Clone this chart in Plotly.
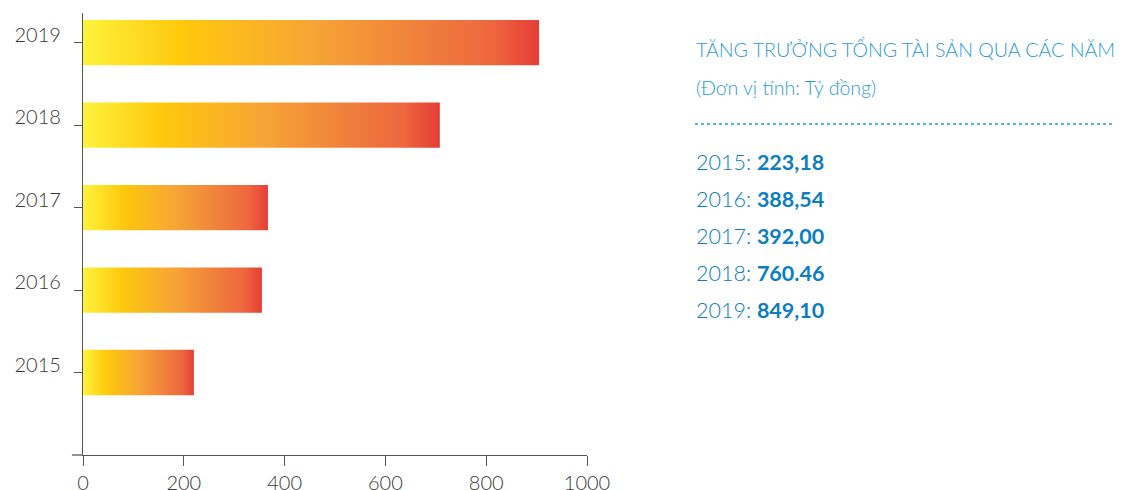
import plotly.graph_objects as go

years = ["2015", "2016", "2017", "2018", "2019"]
bar_values = [220, 355, 367, 708, 905]          # bar lengths as drawn
label_values = ["223,18", "388,54", "392,00", "760.46", "849,10"]
x_ticks = [0, 200, 400, 600, 800, 1000]

title_text = "TĂNG TRƯỞNG TỔNG TÀI SẢN QUA CÁC NĂM"
unit_text = "(Đơn vị tính: Tỷ đồng)"

gradient = [
    [0.0, "#FFF23C"],
    [0.22, "#FEC80C"],
    [0.5, "#F7A535"],
    [0.75, "#EF7E3C"],
    [0.9, "#EE663E"],
    [1.0, "#E53D37"],
]

half = 0.275
fig = go.Figure()
for i, (yr, v) in enumerate(zip(years, bar_values)):
    fig.add_trace(go.Scatter(
        x=[0, v, v, 0, 0],
        y=[i - half, i - half, i + half, i + half, i - half],
        mode="lines",
        fill="toself",
        line=dict(width=0, color="rgba(0,0,0,0)"),
        fillgradient=dict(type="horizontal", colorscale=gradient),
        hoverinfo="text",
        text=f"{yr}: {v}",
        showlegend=False,
    ))

axis_font = dict(family="Lato, Open Sans, sans-serif", size=20, color="#3A3A3A", weight=300)

# page body has an 8px margin, so the figure is offset by 8px
fig.update_layout(
    width=1129, height=490, autosize=False,
    margin=dict(l=75, r=550, t=5, b=43),
    plot_bgcolor="white", paper_bgcolor="white",
    xaxis=dict(
        range=[0, 1000], tickvals=x_ticks, ticks="outside", ticklen=10,
        tickcolor="#555555", tickwidth=1.3, showline=True, linecolor="#555555",
        linewidth=1.3, showgrid=False, zeroline=False, tickfont=axis_font,
        fixedrange=True, automargin=False,
    ),
    yaxis=dict(
        range=[-1, 4.36], tickvals=list(range(len(years))), ticktext=years,
        ticks="outside", ticklen=8, tickcolor="#555555", tickwidth=1.3,
        showline=True, linecolor="#555555", linewidth=1.3, showgrid=False,
        zeroline=False, tickfont=axis_font, ticklabelstandoff=9,
        ticklabelshift=-8, fixedrange=True, automargin=False,
    ),
)

# extend x axis line slightly left of zero
fig.add_shape(type="line", xref="x domain", yref="y domain",
              x0=-0.022, x1=0, y0=0, y1=0,
              line=dict(color="#555555", width=1.3))

def px_x(p):
    return (p - 83) / 504.0

def px_y(p):
    return (455 - p) / 442.0

fig.add_annotation(xref="paper", yref="paper", x=px_x(694), y=px_y(49),
                   xanchor="left", yanchor="middle", showarrow=False,
                   text=title_text,
                   font=dict(family="Lato, Open Sans, sans-serif", size=19.6,
                             color="#2C9AD8", weight=300))
fig.add_annotation(xref="paper", yref="paper", x=px_x(694), y=px_y(88),
                   xanchor="left", yanchor="middle", showarrow=False,
                   text=unit_text,
                   font=dict(family="Lato, Open Sans, sans-serif", size=19.5,
                             color="#2C9AD8", weight=300))
fig.add_shape(type="line", xref="paper", yref="paper",
              x0=px_x(695), x1=px_x(1113), y0=px_y(124), y1=px_y(124),
              line=dict(color="#1E96DA", width=1.5, dash="dot"))

for k, (yr, lab) in enumerate(zip(years, label_values)):
    fig.add_annotation(xref="paper", yref="paper", x=px_x(694),
                       y=px_y(162 + 37 * k), xanchor="left", yanchor="middle",
                       showarrow=False,
                       text=f"{yr}: <b>{lab}</b>",
                       font=dict(family="Lato, Open Sans, sans-serif", size=21.5,
                                 color="#0B7DC2", weight=300))

fig.write_html("out.html")
